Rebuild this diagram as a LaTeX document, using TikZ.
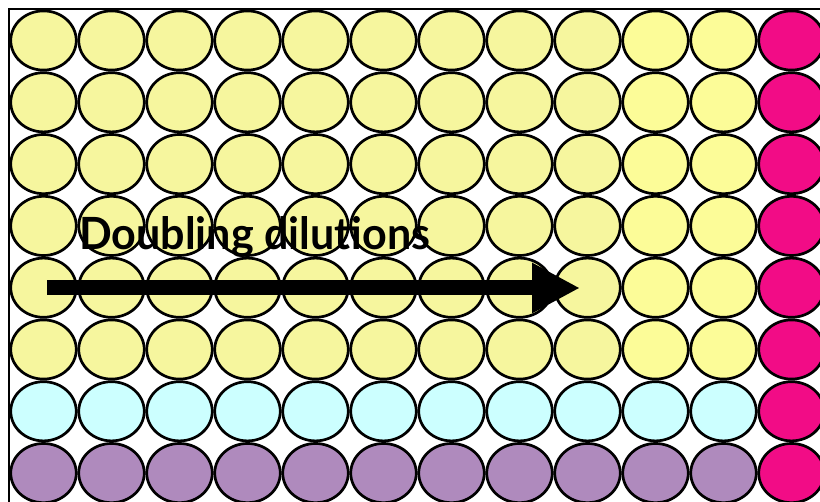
\documentclass[tikz,border=0pt]{standalone}
\usepackage{fontspec}
\setmainfont{Lato}
\usetikzlibrary{shapes.geometric,arrows.meta}
\definecolor{wellyellow}{HTML}{F6F69E}
\definecolor{wellbright}{HTML}{FCFC98}
\definecolor{wellpink}{HTML}{F20C86}
\definecolor{wellcyan}{HTML}{CCFFFF}
\definecolor{welllilac}{HTML}{AF8ABD}
\begin{document}
\begin{tikzpicture}[x=1pt,y=-1pt,
  well/.style={ellipse,draw=black,line width=2.7pt,minimum width=65.5pt,
    minimum height=59.2pt,inner sep=0pt}]
\useasboundingbox (0,0) rectangle (820,502);
\draw[line width=2.2pt] (9,520) |- (840,9);
% plate of wells, row by row
\foreach \r in {1,...,8}{
 \foreach \c in {1,...,12}{
  \ifnum\c=12 \def\wc{wellpink}\else
   \ifnum\r=7 \def\wc{wellcyan}\else
    \ifnum\r=8 \def\wc{welllilac}\else
     \ifnum\c>9 \def\wc{wellbright}\else\def\wc{wellyellow}\fi\fi\fi\fi
  \node[well,fill=\wc] (w\r-\c) at ({43.5+68*(\c-1)},{40.5+61.8*(\r-1)}) {};}}
\node[anchor=base west,inner sep=0pt] (dil) at (79,250)
 {\resizebox{351pt}{33pt}{\bfseries Doubling dilutions}};
\coordinate (from) at (47,288);
\coordinate (to) at (580,288);
\draw[line width=15pt,-{Triangle[length=48pt,width=47pt]}] (from) -- (to);
\end{tikzpicture}
\end{document}
